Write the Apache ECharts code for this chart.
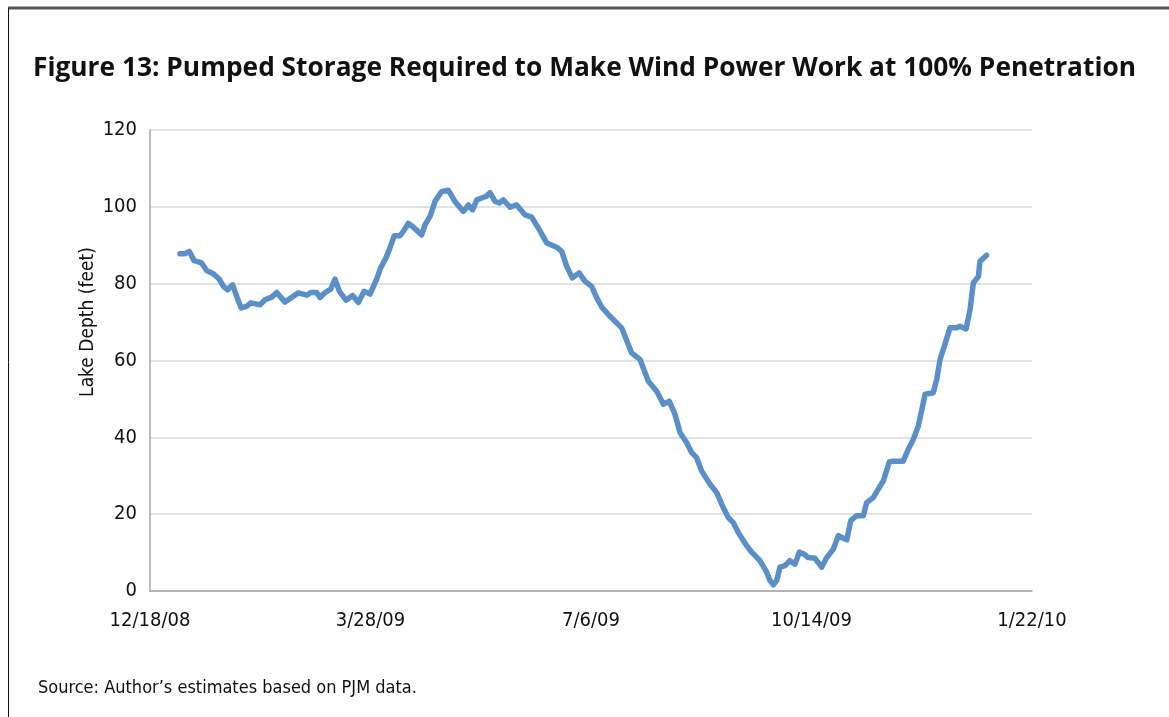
<!DOCTYPE html>
<html>
<head>
<meta charset="utf-8">
<script src="https://cdn.jsdelivr.net/npm/echarts@6/dist/echarts.min.js"></script>
<style>
html, body { margin: 0; padding: 0; background: #fff; }
#main { width: 1169px; height: 717px; }
</style>
</head>
<body>
<div id="main"></div>
<script>
// days counted from 12/18/08
var days = [13.6, 15.9, 17.8, 20, 23.4, 25.7, 28.7, 31.4, 33.3, 35.2, 37.5, 39.3, 41.3, 43.8, 45.7, 49.9,
  52.2, 55.2, 57.5, 61.2, 65, 67.3, 71.1, 72.9, 75.6, 77.1, 79.4, 82, 83.9, 85.9, 88.9, 91.9, 94.5, 97.1,
  99.8, 102.8, 104.6, 107, 108.8, 110.8, 113.4, 114.9, 117.1, 119.1, 123.2, 124.7, 127, 129.3, 132.3,
  135.3, 138.3, 142.1, 144.4, 146.3, 148.2, 150.4, 152.4, 154.2, 156.5, 158.4, 160.2, 163.3, 166.3,
  170.1, 173.1, 176.1, 179.9, 184.4, 186.7, 189, 191.5, 194.6, 197.3, 200.3, 202.6, 205, 208.6, 213.9,
  218.4, 222.2, 226, 229.8, 232.8, 235.5, 238.1, 240.4, 243.4, 245.7, 247.9, 250.2, 254, 257, 260,
  262.3, 264.5, 266.8, 270.6, 272.9, 276.6, 279.7, 281.2, 282.7, 284.2, 285.7, 288, 290.2, 292.5,
  294.5, 296.6, 298.5, 301.6, 304.6, 306.9, 309.9, 312.2, 316, 317.8, 320.5, 323.5, 325, 328, 330.3,
  332.6, 335.3, 337.1, 341.6, 343.9, 346.2, 348.4, 349.9, 351.5, 355.2, 356.8, 358.3, 360.5, 362.8,
  365.8, 367.3, 370.1, 371.9, 373.4, 375.7, 376.4, 379.4];
var depth = [87.8, 87.8, 88.4, 86, 85.4, 83.4, 82.6, 81.2, 79.3, 78.4, 79.7, 76.7, 73.7, 74.1, 75, 74.5,
  75.8, 76.5, 77.7, 75.2, 76.7, 77.6, 77, 77.7, 77.7, 76.4, 77.7, 78.6, 81.2, 78, 75.7, 76.9, 75.1, 78,
  77.3, 81.2, 84.1, 86.7, 89.3, 92.5, 92.5, 93.6, 95.7, 94.9, 92.7, 95.3, 97.5, 101.5, 104, 104.3,
  101.4, 98.8, 100.5, 99.2, 101.8, 102.3, 102.7, 103.7, 101.4, 101, 101.8, 99.9, 100.5,
  97.9, 97.3, 94.5, 90.6, 89.5, 88.4, 84.5, 81.5, 82.8, 80.6, 79.3, 76.3, 73.8, 71.5, 68.5,
  62, 60.3, 54.6, 52, 48.6, 49.4, 46, 41.2, 38.6, 36, 34.7, 31.2, 27.8, 25.6, 21.7,
  19.1, 17.8, 15.2, 11.8, 10.1, 7.9, 4.9, 2.7, 1.6, 2.7, 6.2, 6.6, 7.9, 7,
  10.1, 9.6, 8.7, 8.5, 6.2, 8.7, 10.9, 14.4, 13.3, 18.3, 19.6, 19.6, 23, 24.3, 26.5,
  28.7, 33.6, 33.8, 33.8, 36.9, 39.5, 42.9, 46.8, 51.2, 51.6, 55.1, 60.3, 64.2, 68.5,
  68.5, 68.9, 68.2, 73.2, 80.2, 81.9, 85.8, 87.4];
var xTickLabels = ['12/18/08', '3/28/09', '7/6/09', '10/14/09', '1/22/10'];
var yTicks = [0, 20, 40, 60, 80, 100, 120];

var points = days.map(function (d, i) { return [d, depth[i]]; });
var narrow = '"DejaVu Sans Condensed", "Liberation Sans", sans-serif';

var myChart = echarts.init(document.getElementById('main'));
myChart.setOption({
  backgroundColor: '#fff',
  animation: false,
  title: {
    text: 'Figure 13: Pumped Storage Required to Make Wind Power Work at 100% Penetration',
    left: 'center',
    top: 51,
    textStyle: { fontFamily: '"Open Sans", sans-serif', fontWeight: 'bold', fontSize: 26.3, color: '#111' }
  },
  grid: { left: 150, right: 137, top: 130, bottom: 126 },
  xAxis: {
    type: 'value',
    min: 0,
    max: 400,
    interval: 100,
    axisLine: { show: true, lineStyle: { color: '#a6a6a6', width: 1.5 } },
    axisTick: { show: false },
    splitLine: { show: false },
    axisLabel: {
      margin: 20,
      fontFamily: narrow,
      fontSize: 20,
      color: '#111',
      formatter: function (v) { return xTickLabels[Math.round(v / 100)]; }
    }
  },
  yAxis: {
    type: 'value',
    min: yTicks[0],
    max: yTicks[yTicks.length - 1],
    interval: 20,
    axisLine: { show: true, lineStyle: { color: '#a6a6a6', width: 1.5 } },
    axisTick: { show: false },
    splitLine: { show: true, lineStyle: { color: '#d9d9d9', width: 1.5 } },
    axisLabel: { margin: 13, fontFamily: narrow, fontSize: 20, color: '#111' }
  },
  graphic: [
    { type: 'line', shape: { x1: 8, y1: 8, x2: 1169, y2: 8 }, style: { stroke: '#555', lineWidth: 3 } },
    { type: 'line', shape: { x1: 8.5, y1: 8, x2: 8.5, y2: 717 }, style: { stroke: '#111', lineWidth: 1 } },
    {
      type: 'text', x: 88, y: 322, rotation: Math.PI / 2,
      style: { text: 'Lake Depth (feet)', fontFamily: narrow, fontSize: 19, fill: '#111', align: 'center', verticalAlign: 'middle' }
    },
    {
      type: 'text', left: 38, top: 679,
      style: { text: 'Source: Author\u2019s estimates based on PJM data.', fontFamily: narrow, fontSize: 18, fill: '#111' }
    }
  ],
  series: [{
    type: 'line',
    data: points,
    showSymbol: false,
    smooth: false,
    lineStyle: { color: '#5b8fc8', width: 5.5, cap: 'round', join: 'round' }
  }]
});
</script>
</body>
</html>
